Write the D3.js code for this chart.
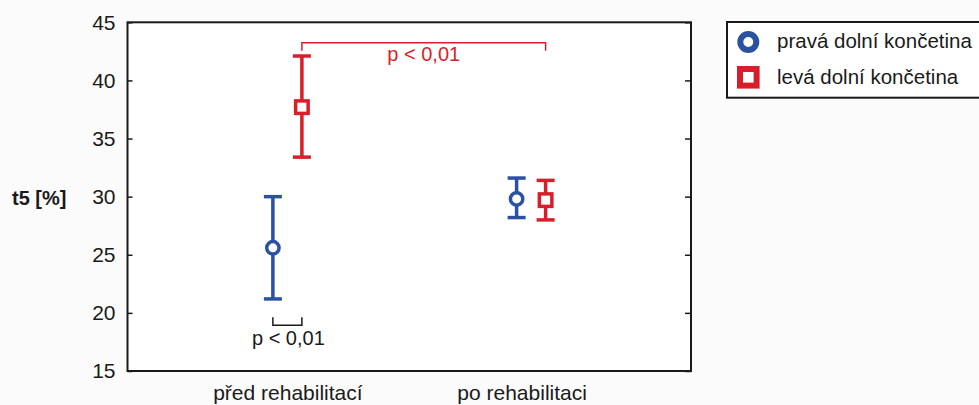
<!DOCTYPE html>
<html>
<head>
<meta charset="utf-8">
<script src="https://cdn.jsdelivr.net/npm/d3@7"></script>
<style>
  html, body { margin: 0; padding: 0; background: #fbfbfb; }
  svg { display: block; font-family: "Liberation Sans", Arial, sans-serif; }
</style>
</head>
<body>
<svg id="chart" width="979" height="405"></svg>
<script>
// Phases of rehabilitation (x categories)
const phases = ["před rehabilitací", "po rehabilitaci"];
// Series names (legend)
const seriesNames = ["pravá dolní končetina", "levá dolní končetina"];
// Means and error-bar limits of t5 [%] per phase
const rightMean  = [25.6, 29.8];
const rightLow   = [21.2, 28.2];
const rightHigh  = [30.0, 31.6];
const leftMean   = [37.7, 29.7];
const leftLow    = [33.4, 28.0];
const leftHigh   = [42.1, 31.4];
// Y axis
const yTicks = [15, 20, 25, 30, 35, 40, 45];
const yLabel = "t5 [%]";
const pText = "p < 0,01";

const blue = "#2b51a1";
const red = "#d91e2b";
const ink = "#1a1a1a";

const svg = d3.select("#chart");
const plot = { left: 127.5, right: 691, top: 22.3, bottom: 371 };

const y = d3.scaleLinear().domain([15, 45]).range([plot.bottom, plot.top]);
const x = d3.scalePoint().domain(phases).range([plot.left, plot.right]).padding(0.656);
const dodge = 14.5;

// plot area
svg.append("rect")
  .attr("x", plot.left).attr("y", plot.top)
  .attr("width", plot.right - plot.left).attr("height", plot.bottom - plot.top)
  .attr("fill", "#ffffff");

// left axis: labels outside, short ticks pointing into the plot
const gy = svg.append("g")
  .attr("transform", `translate(${plot.left},0)`)
  .call(d3.axisLeft(y).tickValues(yTicks).tickSize(0).tickPadding(12));
gy.select(".domain").remove();
gy.selectAll("text").attr("font-size", 21).attr("fill", ink)
  .attr("font-family", "'Liberation Sans', Arial, sans-serif");
const gyi = svg.append("g")
  .attr("transform", `translate(${plot.left},0)`)
  .call(d3.axisRight(y).tickValues(yTicks).tickSize(5).tickFormat(""));
gyi.select(".domain").remove();
gyi.selectAll("line").attr("stroke", ink).attr("stroke-width", 1.5);

// right axis: inward ticks, no labels
const gr = svg.append("g")
  .attr("transform", `translate(${plot.right},0)`)
  .call(d3.axisLeft(y).tickValues(yTicks).tickSize(6).tickFormat(""));
gr.select(".domain").remove();
gr.selectAll("line").attr("stroke", ink).attr("stroke-width", 1.5);

// bottom axis labels
const gx = svg.append("g")
  .attr("transform", `translate(0,${plot.bottom})`)
  .call(d3.axisBottom(x).tickSize(0).tickPadding(14));
gx.select(".domain").remove();
gx.selectAll("text").attr("font-size", 21).attr("fill", ink)
  .attr("font-family", "'Liberation Sans', Arial, sans-serif")
  .attr("dx", (d, i) => (i === 1 ? -9.5 : 0));

// frame
svg.append("rect")
  .attr("x", plot.left).attr("y", plot.top)
  .attr("width", plot.right - plot.left).attr("height", plot.bottom - plot.top)
  .attr("fill", "none").attr("stroke", ink).attr("stroke-width", 2);

// y label
svg.append("text")
  .attr("x", 12).attr("y", 204.5)
  .attr("font-size", 20).attr("font-weight", "bold").attr("fill", ink)
  .text(yLabel);

// error bars with mean markers
function errorBars(mean, low, high, offset, color, shape) {
  const g = svg.append("g");
  phases.forEach((p, i) => {
    const cx = x(p) + offset;
    const capW = 9;
    g.append("line").attr("x1", cx).attr("x2", cx)
      .attr("y1", y(low[i])).attr("y2", y(high[i]))
      .attr("stroke", color).attr("stroke-width", 3.5);
    [low[i], high[i]].forEach(v => {
      g.append("line").attr("x1", cx - capW).attr("x2", cx + capW)
        .attr("y1", y(v)).attr("y2", y(v))
        .attr("stroke", color).attr("stroke-width", 3.5);
    });
    if (shape === "circle") {
      g.append("circle").attr("cx", cx).attr("cy", y(mean[i])).attr("r", 6.2)
        .attr("fill", "#fff").attr("stroke", color).attr("stroke-width", 3.5);
    } else {
      const s = 12.5;
      g.append("rect").attr("x", cx - s / 2).attr("y", y(mean[i]) - s / 2)
        .attr("width", s).attr("height", s)
        .attr("fill", "#fff").attr("stroke", color).attr("stroke-width", 3.5);
    }
  });
}
errorBars(rightMean, rightLow, rightHigh, -dodge, blue, "circle");
errorBars(leftMean, leftLow, leftHigh, dodge, red, "square");

// significance bracket: left limb before vs after
{
  const x1 = x(phases[0]) + dodge, x2 = x(phases[1]) + dodge;
  const yb = 42.7;
  svg.append("path")
    .attr("d", `M${x1},${yb + 8}V${yb}H${x2}V${yb + 8}`)
    .attr("fill", "none").attr("stroke", red).attr("stroke-width", 1.5);
  svg.append("text")
    .attr("x", (x1 + x2) / 2).attr("y", 61).attr("text-anchor", "middle")
    .attr("font-size", 20).attr("fill", red).text(pText);
}
// significance bracket: right vs left limb before rehabilitation
{
  const x1 = x(phases[0]) - dodge, x2 = x(phases[0]) + dodge;
  const yb = 325.3;
  svg.append("path")
    .attr("d", `M${x1},${yb - 8}V${yb}H${x2}V${yb - 8}`)
    .attr("fill", "none").attr("stroke", ink).attr("stroke-width", 1.5);
  svg.append("text")
    .attr("x", (x1 + x2) / 2 + 1).attr("y", 345).attr("text-anchor", "middle")
    .attr("font-size", 20).attr("fill", ink).text(pText);
}

// legend
const lg = svg.append("g");
lg.append("rect")
  .attr("x", 727).attr("y", 22).attr("width", 270).attr("height", 75.7)
  .attr("fill", "#ffffff").attr("stroke", ink).attr("stroke-width", 2);
lg.append("circle").attr("cx", 748.3).attr("cy", 42).attr("r", 8)
  .attr("fill", "#fff").attr("stroke", blue).attr("stroke-width", 6);
lg.append("rect").attr("x", 748.3 - 8.3).attr("y", 77.3 - 8.3).attr("width", 16.6).attr("height", 16.6)
  .attr("fill", "#fff").attr("stroke", red).attr("stroke-width", 6);
seriesNames.forEach((name, i) => {
  lg.append("text").attr("x", 777).attr("y", [47.5, 83.5][i])
    .attr("font-size", 20.5).attr("fill", ink).text(name);
});
</script>
</body>
</html>
